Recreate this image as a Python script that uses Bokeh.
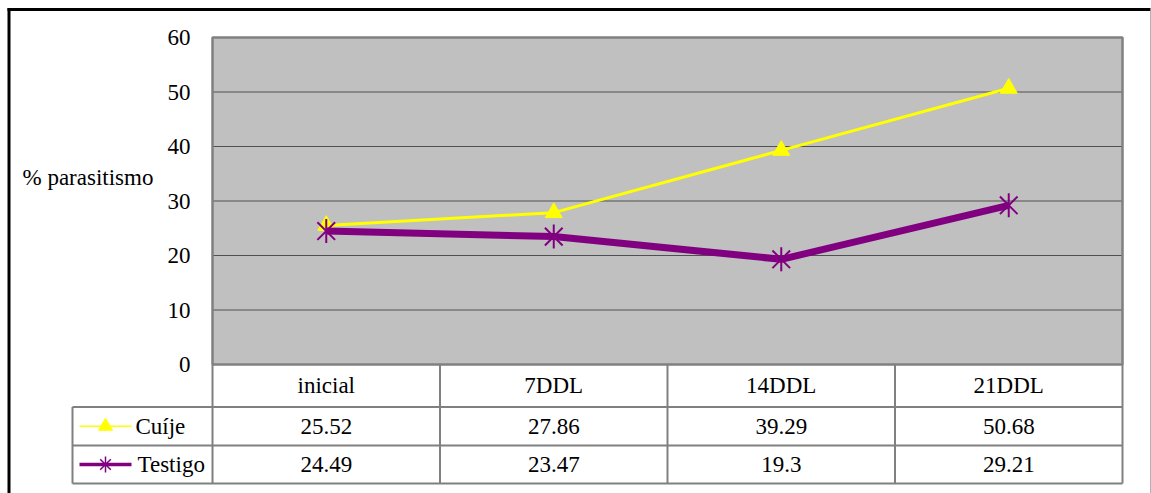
from math import pi

from bokeh.plotting import figure
from bokeh.models import Range1d, ColumnDataSource
from bokeh.embed import file_html
from bokeh.resources import INLINE

# ---- data -----------------------------------------------------------------
categories = ["inicial", "7DDL", "14DDL", "21DDL"]
cuije = [25.52, 27.86, 39.29, 50.68]
testigo = [24.49, 23.47, 19.3, 29.21]
series_names = ["Cuíje", "Testigo"]
y_ticks = [0, 10, 20, 30, 40, 50, 60]
y_label = "% parasitismo"

# ---- layout (pixels) --------------------------------------------------------
W, H = 1151, 493
PL, PR, PT, PB = 212, 1122, 37, 364          # plot area edges
ROWS = [364, 406.5, 445, 483]                # data-table row boundaries
LEG_L = 72                                   # left edge of the legend column
Y_MAX = y_ticks[-1]
n = len(categories)
col_w = (PR - PL) / n
k = (PB - PT) / Y_MAX


def dx(px):
    """pixel column -> category units"""
    return (px - PL) / col_w


def dy(py):
    """pixel row -> value units"""
    return (PB - py) / k


FONT_NAME = "Liberation Serif"
FS = "23px"
YELLOW = "#FFFF00"
PURPLE = "#800080"
GRID = "#808080"

p = figure(width=W, height=H, x_range=Range1d(dx(0), dx(W)),
           y_range=Range1d(dy(H), dy(0)), min_border=0,
           x_axis_location=None, y_axis_location=None,
           toolbar_location=None, output_backend="svg",
           background_fill_color="white", border_fill_color="white",
           outline_line_color=None)
p.grid.visible = False


def add_text(xs, ys, texts, align):
    src = ColumnDataSource(dict(x=list(xs), y=list(ys), t=list(texts),
                                f=[FONT_NAME] * len(texts)))
    p.text(x="x", y="y", text="t", text_font="f", source=src,
           text_font_size=FS, text_align=align, text_baseline="middle",
           text_color="black")


centers = [i + 0.5 for i in range(n)]

# plot area and horizontal gridlines
p.quad(left=0, right=n, bottom=0, top=Y_MAX, fill_color="#C0C0C0", line_color=None)
inner = y_ticks[1:-1]
p.segment(x0=[0] * len(inner), x1=[n] * len(inner), y0=inner, y1=inner,
          line_color="#505050", line_width=1.2)
p.quad(left=0, right=n, bottom=0, top=Y_MAX, fill_color=None,
       line_color=GRID, line_width=2.5)

# y tick labels and axis title
add_text([dx(190)] * len(y_ticks), y_ticks, [str(t) for t in y_ticks], "right")
add_text([dx(22)], [dy(177)], [y_label], "left")

# series
p.line(centers, cuije, line_color=YELLOW, line_width=3)
p.scatter(centers, cuije, marker="triangle", size=17, fill_color=YELLOW,
          line_color=YELLOW)
p.line(centers, testigo, line_color=PURPLE, line_width=7, line_join="round")
p.scatter(centers, testigo, marker="x", size=25, line_color=PURPLE, line_width=2)
p.scatter(centers, testigo, marker="dash", angle=pi / 2, size=24,
          line_color=PURPLE, line_width=2)

# data table grid
h_rows = ROWS[1:]
p.segment(x0=[dx(LEG_L)] * len(h_rows), x1=[n] * len(h_rows),
          y0=[dy(r) for r in h_rows], y1=[dy(r) for r in h_rows],
          line_color=GRID, line_width=2)
p.segment(x0=list(range(n + 1)), x1=list(range(n + 1)),
          y0=[dy(ROWS[0])] * (n + 1), y1=[dy(ROWS[-1])] * (n + 1),
          line_color=GRID, line_width=2)
p.segment(x0=[dx(LEG_L)], x1=[dx(LEG_L)], y0=[dy(ROWS[1])], y1=[dy(ROWS[-1])],
          line_color=GRID, line_width=2)

row_mid = [dy((ROWS[i] + ROWS[i + 1]) / 2) for i in range(3)]

# table texts
add_text(centers, [row_mid[0]] * n, categories, "center")
for r, vals in ((1, cuije), (2, testigo)):
    add_text(centers, [row_mid[r]] * n, [f"{v:g}" for v in vals], "center")

# legend keys inside the table
p.line([dx(79), dx(131)], [row_mid[1]] * 2, line_color=YELLOW, line_width=1.5)
p.scatter([dx(105)], [row_mid[1]], marker="triangle", size=14,
          fill_color=YELLOW, line_color=YELLOW)
p.line([dx(79), dx(131)], [row_mid[2]] * 2, line_color=PURPLE, line_width=3.5)
p.scatter([dx(105)], [row_mid[2]], marker="x", size=15, line_color=PURPLE,
          line_width=1.5)
p.scatter([dx(105)], [row_mid[2]], marker="dash", angle=pi / 2, size=16,
          line_color=PURPLE, line_width=1.5)
add_text([dx(135), dx(137)], [row_mid[1], row_mid[2]], series_names, "left")

# chart border
p.segment(x0=[dx(8.5)], x1=[dx(8.5)], y0=[dy(7.5)], y1=[dy(H + 5)],
          line_color="black", line_width=3)
p.segment(x0=[dx(7)], x1=[dx(1150)], y0=[dy(9)], y1=[dy(9)],
          line_color="black", line_width=3)
p.segment(x0=[dx(1150.5)], x1=[dx(1150.5)], y0=[dy(9)], y1=[dy(H + 5)],
          line_color="#999999", line_width=1.5)

open("out.html", "w").write(file_html(p, INLINE))
